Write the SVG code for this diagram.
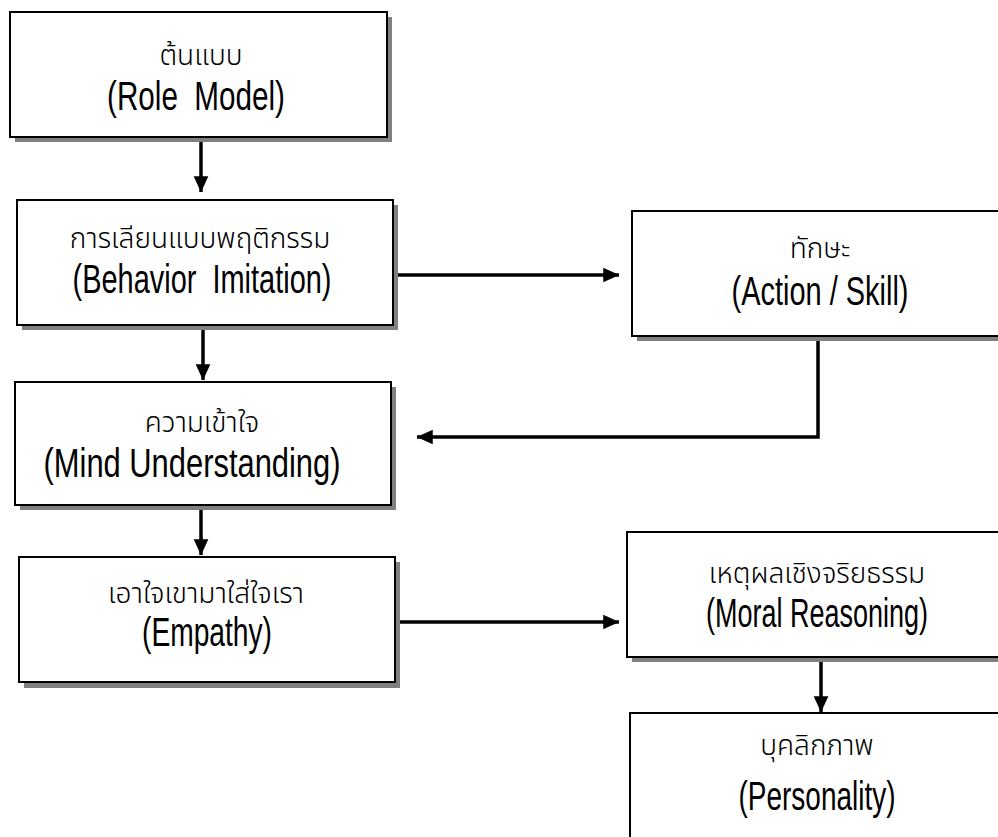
<svg xmlns="http://www.w3.org/2000/svg" width="998" height="837" viewBox="0 0 998 837">
<defs>
<style>
.box{fill:#fff;stroke:#000;stroke-width:2}
.sh{fill:#808080}
.th{font-family:"Noto Sans Thai","Noto Sans","DejaVu Sans",sans-serif;font-size:28px;font-weight:300;fill:#000;text-anchor:middle}
.en{font-family:"Liberation Sans Narrow","Liberation Sans",sans-serif;font-size:40px;fill:#000;text-anchor:middle}
.ln{fill:none;stroke:#000;stroke-width:3.5}
</style>
<marker id="ah" markerWidth="5" markerHeight="5" refX="4.5" refY="2.5" orient="auto" markerUnits="strokeWidth">
<path d="M0,0.4 L4.6,2.5 L0,4.6 Z" fill="#000"/>
</marker>
</defs>
<rect width="998" height="837" fill="#fff"/>

<g id="connectors">
<path class="ln" d="M201,140 V192" marker-end="url(#ah)"/>
<path class="ln" d="M203,328 V380" marker-end="url(#ah)"/>
<path class="ln" d="M201,508 V555" marker-end="url(#ah)"/>
<path class="ln" d="M396,275 H619" marker-end="url(#ah)"/>
<path class="ln" d="M818,341 V437 H417" marker-end="url(#ah)"/>
<path class="ln" d="M398,622 H619" marker-end="url(#ah)"/>
<path class="ln" d="M821,662 V712" marker-end="url(#ah)"/>
</g>

<g id="role-model">
<rect class="sh" x="15" y="17" width="377" height="125"/>
<rect class="box" x="10" y="12" width="377" height="125"/>
<text class="th" x="201" y="65">ต้นแบบ</text>
<text class="en" x="196" y="110" textLength="178" lengthAdjust="spacingAndGlyphs" xml:space="preserve">(Role  Model)</text>
</g>

<g id="behavior-imitation">
<rect class="sh" x="22" y="205" width="376" height="125"/>
<rect class="box" x="17" y="200" width="376" height="125"/>
<text class="th" x="200" y="248">การเลียนแบบพฤติกรรม</text>
<text class="en" x="202" y="293" textLength="259" lengthAdjust="spacingAndGlyphs" xml:space="preserve">(Behavior  Imitation)</text>
</g>

<g id="action-skill">
<rect class="sh" x="637" y="216" width="380" height="125"/>
<rect class="box" x="632" y="211" width="380" height="125"/>
<text class="th" x="820" y="258">ทักษะ</text>
<text class="en" x="820" y="305" textLength="177" lengthAdjust="spacingAndGlyphs">(Action / Skill)</text>
</g>

<g id="mind-understanding">
<rect class="sh" x="20" y="387" width="376" height="123"/>
<rect class="box" x="15" y="382" width="376" height="123"/>
<text class="th" x="202" y="432">ความเข้าใจ</text>
<text class="en" x="192" y="477" textLength="297" lengthAdjust="spacingAndGlyphs">(Mind Understanding)</text>
</g>

<g id="empathy">
<rect class="sh" x="24" y="562" width="376" height="126"/>
<rect class="box" x="19" y="557" width="376" height="125"/>
<text class="th" x="206" y="603">เอาใจเขามาใส่ใจเรา</text>
<text class="en" x="207" y="646" textLength="130" lengthAdjust="spacingAndGlyphs">(Empathy)</text>
</g>

<g id="moral-reasoning">
<rect class="sh" x="632" y="537" width="380" height="125"/>
<rect class="box" x="627" y="532" width="380" height="125"/>
<text class="th" x="817" y="583">เหตุผลเชิงจริยธรรม</text>
<text class="en" x="817" y="627" textLength="222" lengthAdjust="spacingAndGlyphs">(Moral Reasoning)</text>
</g>

<g id="personality">
<rect class="sh" x="635" y="718" width="380" height="140"/>
<rect class="box" x="630" y="713" width="380" height="140"/>
<text class="th" x="817" y="755">บุคลิกภาพ</text>
<text class="en" x="817" y="810" textLength="157" lengthAdjust="spacingAndGlyphs">(Personality)</text>
</g>
</svg>
